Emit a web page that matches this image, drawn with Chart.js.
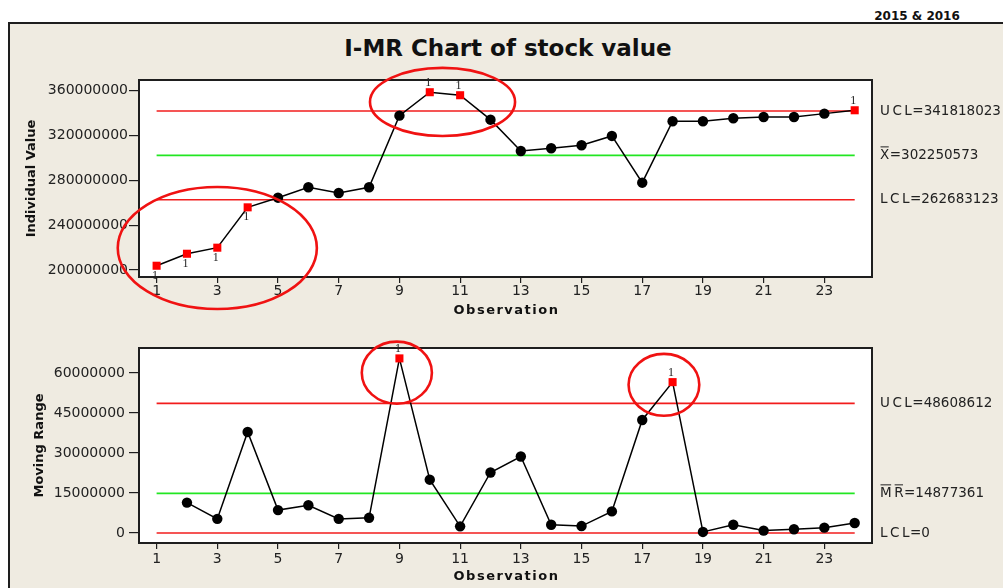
<!DOCTYPE html>
<html>
<head>
<meta charset="utf-8">
<title>I-MR Chart of stock value</title>
<script src="https://cdn.jsdelivr.net/npm/chart.js@4.4.1/dist/chart.umd.min.js"></script>
<style>
  html, body { margin: 0; padding: 0; background: #fff; }
  body { width: 1003px; height: 588px; position: relative; overflow: hidden; font-family: "DejaVu Sans", sans-serif; }
  #period { position: absolute; left: 867px; width: 100px; top: 9px; line-height: 14px; text-align: center;
            font: bold 12px "DejaVu Sans", sans-serif; color: #111; }
  #panel { position: absolute; left: 8px; top: 22px; right: 0; bottom: 0; background: #EFEBE1;
           border-top: 2px solid #1e1e1e; border-left: 2px solid #1e1e1e; }
  #title { position: absolute; left: 0; width: 1016px; top: 35px; line-height: 27px; text-align: center;
           font: bold 23px "DejaVu Sans", sans-serif; color: #111; }
  .chart { position: absolute; left: 0; }
  #individualBox { top: 0; width: 1003px; height: 320px; }
  #movingRangeBox { top: 320px; width: 1003px; height: 268px; }
</style>
</head>
<body>
<div id="period">2015 &amp; 2016</div>
<div id="panel"></div>
<div id="title">I-MR Chart of stock value</div>
<div class="chart" id="individualBox"><canvas id="individualChart" width="1003" height="320"></canvas></div>
<div class="chart" id="movingRangeBox"><canvas id="movingRangeChart" width="1003" height="268"></canvas></div>

<script>
// Observation numbers (x axis)
const observations = [1, 2, 3, 4, 5, 6, 7, 8, 9, 10, 11, 12, 13, 14, 15, 16, 17, 18, 19, 20, 21, 22, 23, 24];
const observationTicks = [1, 3, 5, 7, 9, 11, 13, 15, 17, 19, 21, 23];

// Individual stock values
const individualValues = [
  203800000, 214500000, 219900000, 255900000, 264500000, 273800000, 268700000, 273800000,
  337700000, 358600000, 355900000, 334100000, 306200000, 308600000, 311300000, 319600000,
  277900000, 332700000, 332700000, 335400000, 336500000, 336500000, 339500000, 342500000
];
const individualTicks = [200000000, 240000000, 280000000, 320000000, 360000000];
const individualUCL = 341818023;
const individualMean = 302250573;
const individualLCL = 262683123;

// Moving ranges of two consecutive observations (none for the first one)
const movingRanges = [
  null, 11400000, 5300000, 37900000, 8600000, 10400000, 5300000, 5700000,
  65500000, 20000000, 2500000, 22700000, 28700000, 3100000, 2600000, 8100000,
  42400000, 56600000, 400000, 3100000, 900000, 1400000, 2000000, 3750000
];
const movingRangeTicks = [0, 15000000, 30000000, 45000000, 60000000];
const movingRangeUCL = 48608612;
const movingRangeMean = 14877361;
const movingRangeLCL = 0;

const RED = '#f21c1c';
const GREEN = '#22e622';
const INK = '#1e1e1e';
const BASE_FONT = '"DejaVu Sans", Verdana, sans-serif';

// Draws a letter-spaced label such as "UCL=…" with optional overbars on the letters
function drawLimitLabel(ctx, letters, bar, value, x, y) {
  ctx.save();
  ctx.font = '13.5px ' + BASE_FONT;
  ctx.fillStyle = '#222';
  ctx.textBaseline = 'middle';
  ctx.textAlign = 'left';
  let cx = x;
  for (const ch of letters) {
    const w = ctx.measureText(ch).width;
    ctx.fillText(ch, cx, y);
    if (bar) {
      ctx.strokeStyle = '#222';
      ctx.lineWidth = 1;
      ctx.beginPath();
      ctx.moveTo(cx + 0.5, y - 8.5);
      ctx.lineTo(cx + w - 0.5, y - 8.5);
      ctx.stroke();
    }
    cx += w + 2.5;
  }
  ctx.fillText('=' + String(value), cx - 2, y);
  ctx.restore();
}

function controlChart(canvasId, opts) {
  const outside = v => v !== null && v !== undefined && (v > opts.ucl || v < opts.lcl);
  const points = observations.map((o, i) => ({ x: o, y: opts.values[i] }));
  const first = observations[0];
  const last = observations[observations.length - 1];
  const limitLine = (value, color) => ({
    data: [{ x: first, y: value }, { x: last, y: value }],
    borderColor: color,
    borderWidth: 1.6,
    pointRadius: 0,
    fill: false,
    order: 2
  });

  const decorations = {
    id: 'controlDecorations',
    beforeDraw(chart) {
      const { ctx, chartArea: a } = chart;
      ctx.save();
      ctx.fillStyle = '#ffffff';
      ctx.fillRect(a.left, a.top, a.right - a.left, a.bottom - a.top);
      ctx.restore();
    },
    beforeDatasetsDraw(chart) {
      const { ctx, chartArea: a } = chart;
      ctx.save();
      ctx.strokeStyle = INK;
      ctx.lineWidth = 2;
      ctx.strokeRect(a.left, a.top, a.right - a.left, a.bottom - a.top);
      ctx.restore();
    },
    afterDatasetsDraw(chart) {
      const { ctx, chartArea: a, scales } = chart;
      const xs = scales.x, ys = scales.y;

      // test-1 flags next to out-of-control points
      const meta = chart.getDatasetMeta(0);
      ctx.save();
      ctx.font = '12px "Liberation Serif", "DejaVu Serif", serif';
      ctx.fillStyle = '#222';
      ctx.textAlign = 'center';
      ctx.textBaseline = 'middle';
      opts.values.forEach((v, i) => {
        if (!outside(v)) return;
        const el = meta.data[i];
        const dy = v < opts.mean ? 10 : -9.5;
        ctx.fillText('1', el.x - 1.5, el.y + dy);
      });
      ctx.restore();

      // limit labels on the right
      const lx = a.right + 8;
      drawLimitLabel(ctx, 'UCL', false, opts.ucl, lx, ys.getPixelForValue(opts.ucl));
      drawLimitLabel(ctx, opts.meanLetters, true, opts.mean, lx, ys.getPixelForValue(opts.mean));
      drawLimitLabel(ctx, 'LCL', false, opts.lcl, lx, ys.getPixelForValue(opts.lcl));

      // x axis title
      ctx.save();
      ctx.font = 'bold 13px ' + BASE_FONT;
      ctx.letterSpacing = '1.5px';
      ctx.fillStyle = '#111';
      ctx.textAlign = 'center';
      ctx.textBaseline = 'middle';
      ctx.fillText('Observation', (a.left + a.right) / 2 + 1, a.bottom + opts.xTitleOffset);
      ctx.restore();

      // hand-drawn style callout rings around the flagged runs
      ctx.save();
      ctx.strokeStyle = '#f01212';
      ctx.lineWidth = 2.6;
      opts.callouts.forEach(c => {
        const x0 = xs.getPixelForValue(c.xMin), x1 = xs.getPixelForValue(c.xMax);
        const y0 = ys.getPixelForValue(c.yMax), y1 = ys.getPixelForValue(c.yMin);
        ctx.beginPath();
        ctx.ellipse((x0 + x1) / 2, (y0 + y1) / 2, (x1 - x0) / 2, (y1 - y0) / 2, 0, 0, Math.PI * 2);
        ctx.stroke();
      });
      ctx.restore();
    }
  };

  const canvas = document.getElementById(canvasId);
  return new Chart(canvas, {
    type: 'line',
    data: {
      datasets: [
        {
          data: points,
          borderColor: '#000',
          borderWidth: 1.5,
          tension: 0,
          fill: false,
          order: 1,
          pointStyle: c => (c.raw && outside(c.raw.y)) ? 'rect' : 'circle',
          pointRadius: c => (c.raw && outside(c.raw.y)) ? 5.7 : 5.2,
          pointBackgroundColor: c => (c.raw && outside(c.raw.y)) ? '#ff0000' : '#000',
          pointBorderWidth: 0,
          pointHoverRadius: 5
        },
        limitLine(opts.ucl, RED),
        limitLine(opts.mean, GREEN),
        limitLine(opts.lcl, RED)
      ]
    },
    options: {
      responsive: false,
      animation: false,
      events: [],
      layout: { padding: { top: opts.areaTop, right: 131, left: 0, bottom: 0 } },
      plugins: { legend: { display: false }, tooltip: { enabled: false } },
      scales: {
        x: {
          type: 'linear',
          bounds: 'data',
          min: 0.42,
          max: 24.57,
          afterBuildTicks: axis => { axis.ticks = observationTicks.map(v => ({ value: v })); },
          afterFit: axis => { axis.height = opts.xAxisHeight; },
          ticks: {
            autoSkip: false,
            maxRotation: 0,
            padding: opts.xTickPadding,
            color: '#222',
            font: { family: BASE_FONT, size: 14 },
            callback: v => String(v)
          },
          grid: { drawOnChartArea: false, drawTicks: true, tickLength: 6, color: INK, lineWidth: 1.2 },
          border: { display: false }
        },
        y: {
          type: 'linear',
          bounds: 'data',
          min: opts.yMin,
          max: opts.yMax,
          afterBuildTicks: axis => { axis.ticks = opts.ticks.map(v => ({ value: v })); },
          afterFit: axis => { axis.width = 139; },
          ticks: {
            padding: opts.yTickPadding,
            color: '#222',
            font: { family: BASE_FONT, size: 14 },
            callback: v => String(v)
          },
          grid: { drawOnChartArea: false, drawTicks: true, tickLength: 10, color: INK, lineWidth: 1.2 },
          border: { display: false },
          title: {
            display: true,
            text: opts.yTitle,
            color: '#111',
            font: { family: BASE_FONT, size: 13, weight: 'bold' },
            padding: { top: opts.yTitlePad, bottom: 0 }
          }
        }
      }
    },
    plugins: [decorations]
  });
}

controlChart('individualChart', {
  values: individualValues,
  ticks: individualTicks,
  ucl: individualUCL, mean: individualMean, lcl: individualLCL,
  meanLetters: 'X',
  yMin: 193750000, yMax: 369500000,
  yTitle: 'Individual Value', yTitlePad: 24,
  areaTop: 80, xAxisHeight: 43,
  xTickPadding: 0, yTickPadding: 1, xTitleOffset: 34,
  callouts: [
    { xMin: -0.28, xMax: 6.28, yMin: 165200000, yMax: 274100000 },
    { xMin: 8.03, xMax: 12.81, yMin: 319600000, yMax: 380300000 }
  ]
});

controlChart('movingRangeChart', {
  values: movingRanges,
  ticks: movingRangeTicks,
  ucl: movingRangeUCL, mean: movingRangeMean, lcl: movingRangeLCL,
  meanLetters: 'MR',
  yMin: -3750000, yMax: 69400000,
  yTitle: 'Moving Range', yTitlePad: 32,
  areaTop: 28, xAxisHeight: 45,
  xTickPadding: 2, yTickPadding: 4, xTitleOffset: 34,
  callouts: [
    { xMin: 7.76, xMax: 10.07, yMin: 48500000, yMax: 71800000 },
    { xMin: 16.55, xMax: 18.88, yMin: 44000000, yMax: 67200000 }
  ]
});
</script>
</body>
</html>
